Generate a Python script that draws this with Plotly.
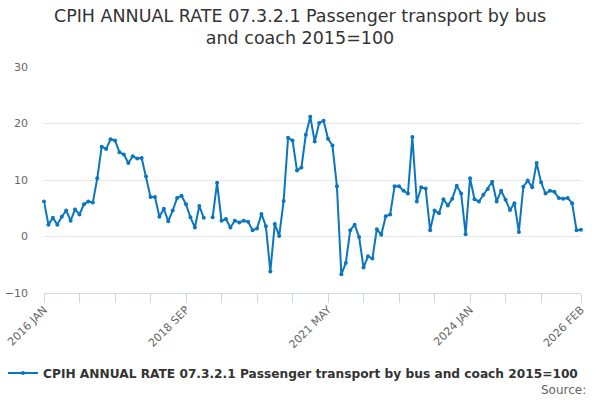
import plotly.graph_objects as go

# Category labels (months, 2016 JAN .. 2026 FEB)
month_abbr = ["JAN", "FEB", "MAR", "APR", "MAY", "JUN",
              "JUL", "AUG", "SEP", "OCT", "NOV", "DEC"]
months = []
for yr in range(2016, 2027):
    for m in month_abbr:
        months.append(f"{yr} {m}")
months = months[:122]

# Series values (annual rate, %)
values = [
    6.2, 2.1, 3.3, 2.1, 3.5, 4.6, 2.8, 4.8, 3.9, 5.7, 6.2, 6.0,
    10.3, 15.9, 15.5, 17.2, 17.0, 14.9, 14.5, 13.0, 14.2, 13.8, 13.9, 10.6,
    7.0, 7.0, 3.5, 4.9, 2.7, 4.6, 6.8, 7.2, 5.7, 3.4, 1.6, 5.4,
    3.3, None, 3.4, 9.5, 2.8, 3.1, 1.6, 2.8, 2.5, 2.8, 2.6, 1.1,
    1.4, 4.0, 1.8, -6.2, 2.2, 0.1, 6.3, 17.5, 17.0, 11.7, 12.2, 18.0,
    21.2, 16.8, 20.1, 20.5, 17.3, 16.1, 8.9, -6.7, -4.7, 1.1, 2.1, -0.1,
    -5.5, -3.5, -3.9, 1.3, 0.3, 3.6, 3.9, 8.9, 8.9, 8.1, 7.6, 17.6,
    6.2, 8.7, 8.5, 1.1, 4.6, 4.1, 6.6, 5.5, 6.7, 9.0, 7.6, 0.4,
    10.3, 6.6, 6.2, 7.4, 8.4, 9.7, 6.2, 8.1, 6.5, 4.7, 5.9, 0.8,
    8.8, 9.9, 8.7, 13.0, 9.6, 7.6, 8.1, 7.9, 6.8, 6.7, 6.8, 5.9,
    1.1, 1.2,
]

series_name = "CPIH ANNUAL RATE 07.3.2.1 Passenger transport by bus and coach 2015=100"
title_text = "CPIH ANNUAL RATE 07.3.2.1 Passenger transport by bus<br>and coach 2015=100"

# Tick positions and labels
tick_idx = list(range(0, 113, 8)) + [121]
labelled = {0, 32, 64, 96, 121}
tick_vals = [months[i] for i in tick_idx]
tick_text = [months[i] if i in labelled else "" for i in tick_idx]

y_ticks = [-10, 0, 10, 20, 30]

color = "#0a76c0"
font_family = "DejaVu Sans, Verdana, sans-serif"

fig = go.Figure()
fig.add_trace(go.Scatter(
    x=months, y=values, name=series_name,
    mode="lines+markers",
    line=dict(color=color, width=2),
    marker=dict(color=color, size=4),
    cliponaxis=False,
    connectgaps=False,
))

fig.update_layout(
    width=600, height=400,
    margin=dict(l=44, r=19, t=67, b=107, autoexpand=False),
    paper_bgcolor="white", plot_bgcolor="white",
    font=dict(family=font_family, color="#333333"),
    title=dict(text=title_text, x=0.5, xanchor="center",
               y=0.946, yanchor="top", yref="container",
               font=dict(size=17.5, color="#333333", family=font_family)),
    showlegend=True,
    legend=dict(orientation="h", xref="container", yref="container",
                x=0.005, xanchor="left",
                y=0.0675, yanchor="middle",
                font=dict(size=12.2, color="#333333", family=font_family, weight="bold"),
                bgcolor="rgba(0,0,0,0)"),
    xaxis=dict(
        type="category", automargin=False,
        categoryorder="array", categoryarray=months,
        range=[0, 121],
        tickmode="array", tickvals=tick_vals, ticktext=tick_text,
        tickangle=-45,
        ticks="outside", ticklen=9, tickcolor="#ccd6eb", tickwidth=1,
        ticklabelstandoff=-4,
        showline=True, linecolor="#ccd6eb", linewidth=1,
        showgrid=False, zeroline=False,
        tickfont=dict(size=11, color="#666666", family=font_family),
    ),
    yaxis=dict(
        range=[-10, 30], automargin=False,
        tickmode="array", tickvals=y_ticks,
        showgrid=True, gridcolor="#e6e6e6", gridwidth=1,
        zeroline=False, showline=False,
        ticklabelstandoff=15,
        tickfont=dict(size=11, color="#666666", family=font_family),
    ),
)

fig.add_annotation(
    text="Source:", xref="paper", yref="paper",
    x=1.013, xanchor="right", y=-0.43, yanchor="middle",
    showarrow=False,
    font=dict(size=12, color="#666666", family=font_family),
)

fig.write_html("out.html",
               config={"displayModeBar": False},
               post_script="document.body.style.margin='0';document.body.style.padding='0';")
